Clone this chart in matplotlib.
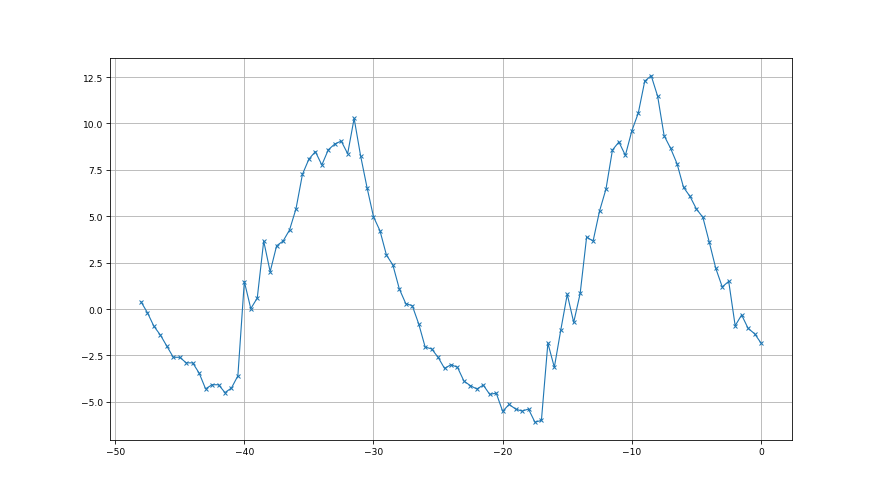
import numpy as np
import matplotlib
matplotlib.use('Agg')
import matplotlib.pyplot as plt

x = np.arange(-48, 0.25, 0.5)
y = [0.39, -0.2, -0.93, -1.4, -2.0, -2.6, -2.6, -2.9, -2.9, -3.45,
     -4.3, -4.08, -4.08, -4.5, -4.26, -3.6, 1.48, 0.02, 0.59, 3.66,
     2.01, 3.41, 3.66, 4.26, 5.4, 7.26, 8.08, 8.48, 7.76, 8.58,
     8.89, 9.05, 8.37, 10.27, 8.26, 6.54, 4.97, 4.22, 2.91, 2.37,
     1.08, 0.29, 0.18, -0.8, -2.05, -2.15, -2.6, -3.2, -3.0, -3.14,
     -3.88, -4.13, -4.31, -4.1, -4.6, -4.53, -5.51, -5.14, -5.39, -5.5,
     -5.39, -6.1, -6.0, -1.84, -3.14, -1.13, 0.79, -0.72, 0.84, 3.88,
     3.66, 5.28, 6.47, 8.57, 9.0, 8.28, 9.6, 10.56, 12.28, 12.57,
     11.46, 9.34, 8.66, 7.83, 6.56, 6.07, 5.39, 4.94, 3.59, 2.19,
     1.19, 1.49, -0.9, -0.32, -1.04, -1.33, -1.83]

fig = plt.figure(figsize=(12, 6.75), dpi=880 / 12)
plt.plot(x, y, marker='x', color='#1f77b4', linewidth=1.1, markersize=4.5)
plt.tick_params(labelsize=9)
plt.grid(True)
plt.savefig('out.png', dpi=880 / 12)
